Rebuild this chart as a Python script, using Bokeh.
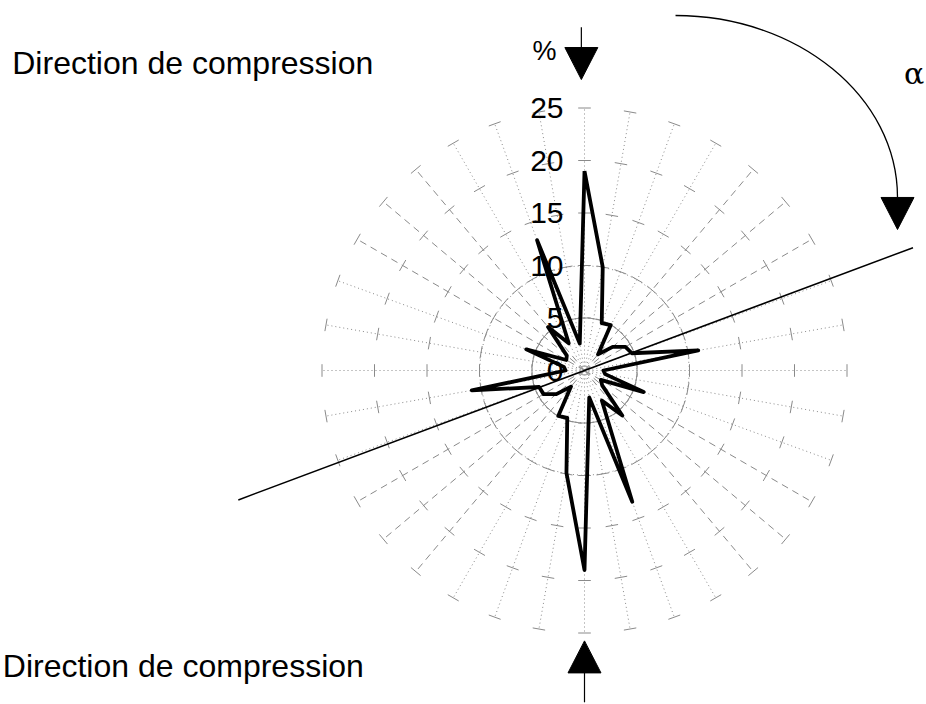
import numpy as np
from bokeh.plotting import figure
from bokeh.models import Range1d
from bokeh.core.properties import value
from bokeh.embed import file_html
from bokeh.resources import INLINE

# ---------------- data ----------------
angles_deg = list(range(0, 360, 10))          # alpha, clockwise from the top
percent = [19.0, 10.0, 4.8, 5.0, 2.0, 3.5, 4.5, 4.8, 11.0, 1.8, 2.0, 6.0,
           1.8, 2.2, 5.6, 3.3, 13.3, 2.6,
           19.0, 9.9, 4.8, 5.0, 2.0, 3.5, 4.5, 4.6, 10.9, 1.8, 2.0, 5.9,
           2.0, 2.2, 5.4, 3.0, 13.2, 2.6]
radial_ticks = [0, 5, 10, 15, 20, 25]
radial_labels = ["0", "5", "10", "15", "20", "25"]
alpha_line_deg = 69.5                          # orientation of the fitted line
title_text = "Direction de compression"

# ---------------- layout ----------------
SCALE = 10.5            # px per %
W, H = 926, 704
CX, CY = 584, 370       # centre of the rose inside the figure (px)
R_MAX = 25
FONT = value("Liberation Sans")

p = figure(width=W, height=H, output_backend="svg", toolbar_location=None,
           x_range=Range1d(-CX / SCALE, (W - CX) / SCALE),
           y_range=Range1d(-(H - CY) / SCALE, CY / SCALE),
           x_axis_type=None, y_axis_type=None, min_border=0,
           outline_line_color=None)
p.grid.visible = False

th = np.deg2rad(np.array(angles_deg, dtype=float))
sx, cy = np.sin(th), np.cos(th)

# spokes: near-diagonal ones print as long dashes
diag = np.array([(a % 180) in (40, 50, 60, 120, 130, 140) for a in angles_deg])
for mask, dash in ((~diag, "1 3"), (diag, "7 5")):
    p.segment(x0=np.zeros(mask.sum()), y0=np.zeros(mask.sum()),
              x1=R_MAX * sx[mask], y1=R_MAX * cy[mask],
              line_color="#8a8a8a", line_width=1, line_dash=dash)

# inner rings (5 and 10)
for r in (5, 10):
    p.line(x=list(r * sx) + [r * sx[0]], y=list(r * cy) + [r * cy[0]],
           line_color="#8a8a8a", line_width=1, line_dash="1 3")

# tick crosses on every spoke
hl = 0.6
for r in radial_ticks[1:]:
    p.segment(x0=r * sx - hl * cy, y0=r * cy + hl * sx,
              x1=r * sx + hl * cy, y1=r * cy - hl * sx,
              line_color="#8a8a8a", line_width=1)

# radial axis labels
p.text(x=[-2.0] * len(radial_ticks), y=radial_ticks, text=radial_labels,
       text_align="right", text_baseline="middle", text_font=FONT,
       text_font_size="30px", text_color="black")

# data polygon
v = np.array(percent)
p.line(x=list(v * sx) + [v[0] * sx[0]], y=list(v * cy) + [v[0] * cy[0]],
       line_color="black", line_width=3.8, line_join="round")

# orientation line through the centre
a = np.deg2rad(alpha_line_deg)
p.line(x=[-35.2 * np.sin(a), 33.4 * np.sin(a)],
       y=[-35.2 * np.cos(a), 33.4 * np.cos(a)],
       line_color="black", line_width=1.5)

# compression arrows
p.segment(x0=[-0.3], y0=[32.7], x1=[-0.3], y1=[30.7], line_color="black", line_width=1.2)
p.patch(x=[-0.3 - 1.57, -0.3 + 1.57, -0.3], y=[30.76, 30.76, 27.71],
        fill_color="black", line_color="black")
p.segment(x0=[0.0], y0=[-28.8], x1=[0.0], y1=[-31.6], line_color="black", line_width=1.2)
p.patch(x=[-1.57, 1.57, 0.0], y=[-28.8, -28.8, -25.75],
        fill_color="black", line_color="black")

# curved alpha arrow (quarter ellipse)
ecx, ecy, rx, ry, k = 8.67, 16.48, 21.14, 17.33, 0.5523
p.bezier(x0=[ecx], y0=[ecy + ry], x1=[ecx + rx], y1=[ecy],
         cx0=[ecx + k * rx], cy0=[ecy + ry], cx1=[ecx + rx], cy1=[ecy + k * ry],
         line_color="black", line_width=1.3)
p.patch(x=[ecx + rx - 1.57, ecx + rx + 1.57, ecx + rx], y=[ecy, ecy, ecy - 3.05],
        fill_color="black", line_color="black")

# texts
p.text(x=[-54.5], y=[29.24], text=[title_text], text_font=FONT,
       text_font_size="32px", text_align="left", text_baseline="alphabetic")
p.text(x=[-55.4], y=[-28.1], text=[title_text], text_font=FONT,
       text_font_size="32px", text_align="left", text_baseline="alphabetic")
p.text(x=[-3.8], y=[30.4], text=["%"], text_font=FONT, text_font_size="27px",
       text_align="center", text_baseline="middle")
p.text(x=[31.4], y=[28.3], text=["α"], text_font=value("DejaVu Serif"),
       text_font_size="30px", text_align="center", text_baseline="middle")

open("out.html", "w").write(file_html(p, INLINE))
